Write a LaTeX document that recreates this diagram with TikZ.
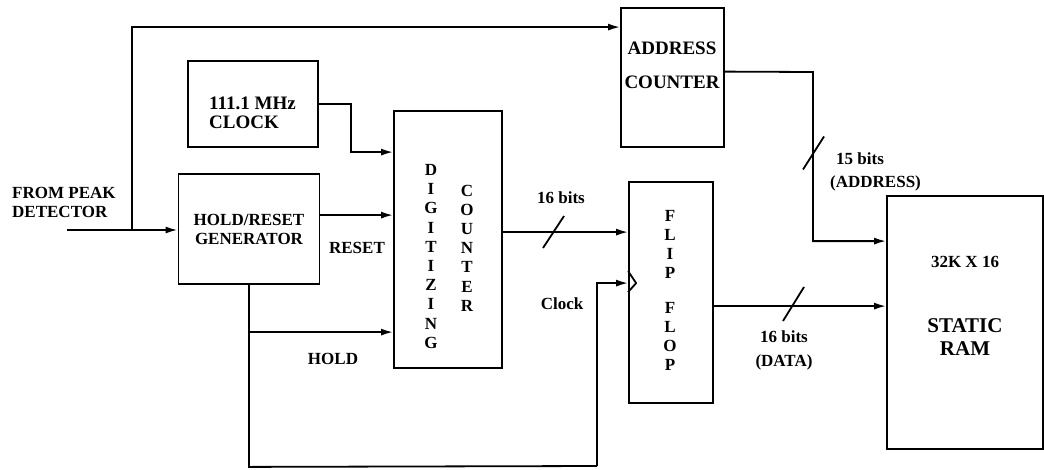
\documentclass[tikz,border=0pt]{standalone}
\usepackage{fontspec}
\setmainfont{Liberation Serif}
\usetikzlibrary{arrows.meta,calc}
\begin{document}
\begin{tikzpicture}[x=1pt,y=-1pt,
  wire/.style={line width=1.8pt},
  arr/.style={wire,-{Latex[length=12pt,width=7pt]}},
  blk/.style={draw,line width=1.8pt,inner sep=0pt},
  txt/.style={font=\bfseries\fontsize{17}{19}\selectfont,inner sep=0pt},
  big/.style={font=\bfseries\fontsize{19}{19}\selectfont,inner sep=0pt},
  vtxt/.style={font=\bfseries\fontsize{17}{19.2}\selectfont,inner sep=0pt,align=center}
]
\useasboundingbox (0,0) rectangle (1044,469);
% blocks
\node[blk,minimum width=130pt,minimum height=86pt] (clk) at (253,104) {};
\node[blk,minimum width=141pt,minimum height=110pt,txt,align=center] (hr) at (249,229) {HOLD/RESET\\GENERATOR};
\node[blk,minimum width=108pt,minimum height=257pt] (dig) at (448,239.5) {};
\node[blk,minimum width=103pt,minimum height=139pt] (addr) at (672.5,77.5) {};
\node[blk,minimum width=84pt,minimum height=221pt] (ff) at (671,292.5) {};
\node[blk,minimum width=156pt,minimum height=253pt] (ram) at (965,322.5) {};
% block texts
\node[big,align=left,anchor=west] (clkt) at (209,112.5) {111.1 MHz\\CLOCK};
\node[big,align=center,font=\bfseries\fontsize{19}{34}\selectfont] (addrt) at (672,65) {ADDRESS\\COUNTER};
\node[vtxt] (dig1) at (431,256.5) {D\\I\\G\\I\\T\\I\\Z\\I\\N\\G};
\node[vtxt] (dig2) at (467,248) {C\\O\\U\\N\\T\\E\\R};
\node[vtxt] (ff1) at (670,244.5) {F\\L\\I\\P};
\node[vtxt] (ff2) at (670,336.5) {F\\L\\O\\P};
\node[txt] (ramt1) at (965,262) {32K X 16};
\node[font=\bfseries\fontsize{21}{23}\selectfont,inner sep=0pt,align=center] (ramt2) at (965,337.5) {STATIC\\RAM};
% labels
\node[txt,align=left,anchor=west] (from) at (12,202.5) {FROM PEAK\\DETECTOR};
\node[txt] (reset) at (357,248) {RESET};
\node[txt] (hold) at (333,359) {HOLD};
\node[txt] (b16a) at (561,198) {16 bits};
\node[txt] (clockl) at (562,304) {Clock};
\node[txt,align=center,font=\bfseries\fontsize{17}{24}\selectfont] (b16b) at (784,350) {16 bits\\(DATA)};
\node[txt,anchor=west] (b15a) at (836,159) {15 bits};
\node[txt,anchor=west] (b15b) at (830,183) {(ADDRESS)};
% coordinates
\coordinate (in) at (67,230);
\coordinate (j1) at (132,230);
\coordinate (topin) at ($(addr.north west)+(0,20)$);
\coordinate (clkin) at ($(dig.north west)+(0,42)$);
\coordinate (rstout) at ($(hr.north east)+(0,42)$);
\coordinate (holdin) at ($(dig.north west)+(0,222)$);
\coordinate (d2f) at ($(dig.north east)+(0,122)$);
\coordinate (ffclk) at ($(ff.north west)+(0,102)$);
\coordinate (loopb) at ($(hr.south)+(0,182)$);
\coordinate (loopr) at (597,466);
\coordinate (ffout) at ($(ff.north east)+(0,125)$);
\coordinate (aout) at ($(addr.north east)+(0,64.5)$);
\coordinate (abend) at (813,72);
\coordinate (ramain) at ($(ram.north west)+(0,46)$);
% connectors
\draw[arr] (in) -- (hr.west |- in);
\draw[arr] (j1) |- (topin);
\draw[arr] (clk.east) -- ++(32,0) |- (clkin);
\draw[arr] (rstout) -- (dig.west |- rstout);
\draw[arr] (hr.south) |- (holdin);
\draw[wire] (hr.south) -- (loopb) -- (loopr);
\draw[arr] (loopr) |- (ffclk);
\draw[arr] (d2f) -- (ff.west |- d2f);
\draw[arr] (ffout) -- (ram.west |- ffout);
\draw[arr] (aout) -- (abend) |- (ramain);
% clock symbol
\draw[wire] ($(ff.north west)+(0,90)$) -- ++(8,12) -- ++(-8,9);
% bus slashes
\draw[wire] (553,232) ++(-10,16) -- ++(21,-32);
\draw[wire] (793,305) ++(-10,16) -- ++(21,-34);
\draw[wire] (813,153.5) ++(-10,16) -- ++(21,-33);
\end{tikzpicture}
\end{document}
